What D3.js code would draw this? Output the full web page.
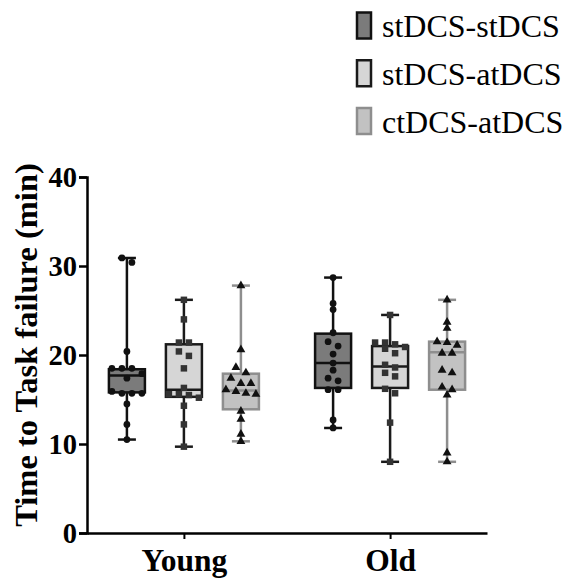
<!DOCTYPE html>
<html>
<head>
<meta charset="utf-8">
<script src="https://cdn.jsdelivr.net/npm/d3@7"></script>
<style>
  html, body { margin: 0; padding: 0; background: #fff; }
  svg { display: block; }
  svg text { font-family: "Liberation Serif", "Times New Roman", "DejaVu Serif", serif; }
</style>
</head>
<body>
<svg id="chart" width="567" height="578"></svg>
<script>
// Groups, conditions and axis ticks
const groups = ["Young", "Old"];
const conditions = ["stDCS-stDCS", "stDCS-atDCS", "ctDCS-atDCS"];
const yTicks = [0, 10, 20, 30, 40];

// Individual time-to-task-failure values (min)
const youngStSt = [30.9, 30.4, 20.4, 18.5, 18.5, 18.5, 17.9, 17.4, 15.9, 15.7, 15.7, 15.7, 14.5, 12.2, 10.5];
const youngStAt = [26.2, 24.0, 21.4, 21.4, 20.4, 19.9, 18.5, 16.3, 15.6, 15.6, 15.5, 15.2, 14.3, 12.2, 9.7];
const youngCtAt = [27.8, 20.6, 18.6, 18.0, 17.4, 16.8, 16.8, 16.1, 15.9, 15.7, 15.6, 13.7, 12.8, 11.1, 10.3];
const oldStSt = [28.7, 25.8, 25.1, 22.5, 21.5, 21.0, 20.1, 19.1, 18.3, 17.4, 17.1, 16.1, 16.1, 12.7, 11.8];
const oldStAt = [24.5, 21.4, 21.4, 21.2, 20.9, 20.7, 20.2, 18.9, 18.6, 18.0, 17.6, 16.2, 15.7, 12.4, 8.0];
const oldCtAt = [26.2, 23.7, 23.0, 21.5, 21.4, 21.1, 20.2, 20.2, 18.3, 18.0, 16.4, 16.1, 15.5, 9.0, 8.0];

// Box summaries, one row per group, one entry per condition
const boxMin = [[10.5, 9.7, 10.3], [11.8, 8.0, 8.0]];
const boxQ1 = [[15.8, 15.3, 13.9], [16.3, 16.3, 16.1]];
const boxMedian = [[17.7, 16.1, 16.0], [19.1, 18.7, 20.3]];
const boxQ3 = [[18.4, 21.2, 17.9], [22.4, 21.0, 21.5]];
const boxMax = [[30.9, 26.2, 27.8], [28.7, 24.5, 26.2]];

const pointSets = [[youngStSt, youngStAt, youngCtAt], [oldStSt, oldStAt, oldCtAt]];

const styles = [
  { fill: "#7b7b7b", stroke: "#111", marker: "circle", markerFill: "#111" },
  { fill: "#d6d6d6", stroke: "#1a1a1a", marker: "square", markerFill: "#333" },
  { fill: "#c2c2c2", stroke: "#8e8e8e", marker: "triangle", markerFill: "#111" }
];

const svg = d3.select("#chart");
const serif = '"Liberation Serif", "Times New Roman", "DejaVu Serif", serif';

const x = d3.scalePoint().domain(groups).range([87, 487]).padding(0.47);
const xSub = d3.scalePoint().domain(conditions).range([-57, 57]);
const y = d3.scaleLinear().domain([0, 40]).range([533, 177]);

const boxW = 36;
const capW = 18;

// Y axis
const yAxis = svg.append("g")
  .attr("transform", "translate(87,0)")
  .call(d3.axisLeft(y).tickValues(yTicks).tickSize(8).tickPadding(2).tickFormat(d3.format("d")));
yAxis.attr("font-family", null);
yAxis.select(".domain").attr("stroke", "#000").attr("stroke-width", 2.5);
yAxis.selectAll(".tick line").attr("stroke", "#000").attr("stroke-width", 2.5);
yAxis.selectAll(".tick text")
  .attr("fill", "#000")
  .attr("font-family", serif)
  .attr("font-weight", "bold")
  .attr("font-size", 28.5);

// X axis
const xAxis = svg.append("g")
  .attr("transform", "translate(0,533)")
  .call(d3.axisBottom(x).tickSize(6).tickSizeOuter(0).tickPadding(10));
xAxis.attr("font-family", null);
xAxis.select(".domain").attr("stroke", "#000").attr("stroke-width", 2.5);
xAxis.selectAll(".tick line").attr("stroke", "#000").attr("stroke-width", 2);
xAxis.selectAll(".tick text")
  .attr("fill", "#000")
  .attr("dy", "0.71em")
  .attr("font-family", serif)
  .attr("font-weight", "bold")
  .attr("font-size", 31.5);

// Y axis title
svg.append("text")
  .attr("transform", "translate(37,345) rotate(-90)")
  .attr("text-anchor", "middle")
  .attr("font-family", serif)
  .attr("font-weight", "bold")
  .attr("font-size", 32.5)
  .attr("fill", "#000")
  .text("Time to Task failure (min)");

// Spread points sharing a value band side by side
function swarm(values, step, thresh) {
  const pts = values.map(v => ({ v, py: y(v) })).sort((a, b) => a.py - b.py);
  const rows = [];
  let cur = null;
  pts.forEach(p => {
    if (!cur || p.py - cur[0].py > thresh) { cur = [p]; rows.push(cur); }
    else cur.push(p);
  });
  rows.forEach(r => r.forEach((p, i) => { p.dx = (i - (r.length - 1) / 2) * step; }));
  return pts;
}

const symbols = {
  circle: d3.symbol().type(d3.symbolCircle).size(36),
  square: d3.symbol().type(d3.symbolSquare).size(42),
  triangle: d3.symbol().type(d3.symbolTriangle).size(34)
};

groups.forEach((g, gi) => {
  conditions.forEach((c, ci) => {
    const cx = x(g) + xSub(c);
    const st = styles[ci];
    const box = svg.append("g");

    // whisker
    box.append("line")
      .attr("x1", cx).attr("x2", cx)
      .attr("y1", y(boxMax[gi][ci])).attr("y2", y(boxMin[gi][ci]))
      .attr("stroke", st.stroke).attr("stroke-width", 2.5);
    [boxMax[gi][ci], boxMin[gi][ci]].forEach(v => {
      box.append("line")
        .attr("x1", cx - capW / 2).attr("x2", cx + capW / 2)
        .attr("y1", y(v)).attr("y2", y(v))
        .attr("stroke", st.stroke).attr("stroke-width", 2.5);
    });
    // box
    box.append("rect")
      .attr("x", cx - boxW / 2)
      .attr("y", y(boxQ3[gi][ci]))
      .attr("width", boxW)
      .attr("height", y(boxQ1[gi][ci]) - y(boxQ3[gi][ci]))
      .attr("fill", st.fill)
      .attr("stroke", st.stroke)
      .attr("stroke-width", 2.5);
    // median
    box.append("line")
      .attr("x1", cx - boxW / 2).attr("x2", cx + boxW / 2)
      .attr("y1", y(boxMedian[gi][ci])).attr("y2", y(boxMedian[gi][ci]))
      .attr("stroke", st.stroke).attr("stroke-width", 2.5);

    // individual points
    const pts = swarm(pointSets[gi][ci], 10, 6);
    box.selectAll("path.pt")
      .data(pts)
      .join("path")
      .attr("class", "pt")
      .attr("d", symbols[st.marker])
      .attr("transform", d => `translate(${cx + d.dx},${d.py})`)
      .attr("fill", st.markerFill);
  });
});

// Legend
const legend = svg.append("g");
const legendY = d3.scalePoint().domain(conditions).range([25.5, 121]);
conditions.forEach((c, ci) => {
  const st = styles[ci];
  const ly = legendY(c);
  legend.append("rect")
    .attr("x", 357).attr("y", ly - 13)
    .attr("width", 14).attr("height", 26)
    .attr("fill", st.fill)
    .attr("stroke", st.stroke)
    .attr("stroke-width", 2.5);
  legend.append("text")
    .attr("x", 382).attr("y", ly + 11.5)
    .attr("font-family", serif)
    .attr("font-size", 32)
    .attr("fill", "#000")
    .text(c);
});
</script>
</body>
</html>
